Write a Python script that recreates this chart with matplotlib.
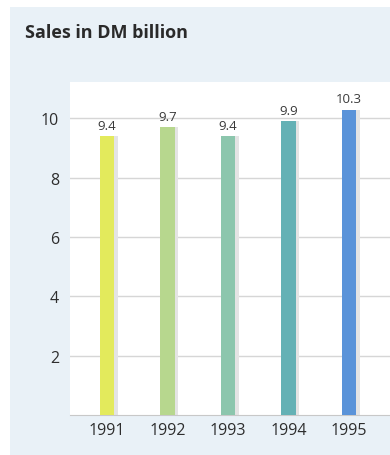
import matplotlib.pyplot as plt
from matplotlib.patches import Rectangle

## Données

annees = ['1991', '1992', '1993', '1994', '1995']
ventes = [9.4, 9.7, 9.4, 9.9, 10.3]  # chiffre d'affaires en milliards de DM
couleurs = ['#e3ea5c', '#b7d78e', '#8cc6ad', '#64b1b5', '#5a93d9']
graduations = [2, 4, 6, 8, 10]

## Figure

plt.rcParams['font.family'] = ['Open Sans', 'DejaVu Sans']
fig = plt.figure(figsize=(3.9, 4.56), dpi=100, facecolor='white')

# panneau bleu clair derrière le graphique
fond = Rectangle((10 / 390, 0), 1, 1 - 8 / 456, transform=fig.transFigure,
                 facecolor='#e9f1f7', edgecolor='none', zorder=-5)
fig.patches.append(fond)

ax = fig.add_axes([70 / 390, 40 / 456, 1 - 70 / 390, (416 - 83) / 456])
ax.set_zorder(2)
ax.set_facecolor('white')

x = list(range(len(annees)))
# ombre grise à droite de chaque barre
ax.bar([k + 0.06 for k in x], ventes, width=0.24, color='#e4e4e4', zorder=2)
ax.bar(x, ventes, width=0.24, color=couleurs, zorder=3)

for k, v in zip(x, ventes):
    ax.text(k, v + 0.15, str(v), ha='center', va='bottom', fontsize=9.5, color='#3a3a3a')

ax.set_xlim(-0.61, 4.68)
ax.set_ylim(0, 11.23)
ax.set_yticks(graduations)
ax.set_yticklabels([str(g) for g in graduations])
ax.set_xticks(x)
ax.set_xticklabels(annees)
ax.yaxis.grid(True, color='#d6d6d6', linewidth=1)
ax.set_axisbelow(True)
ax.tick_params(axis='both', length=0, labelsize=11.5, colors='#2e2e2e')
ax.tick_params(axis='y', pad=8)
ax.tick_params(axis='x', pad=5)
for s in ['top', 'right', 'left']:
    ax.spines[s].set_visible(False)
ax.spines['bottom'].set_color('#c8c8c8')

fig.text(25 / 390, 1 - 33 / 456, 'Sales in DM billion', fontsize=13, fontweight='bold',
         color='#2a2a2a', va='center', ha='left')

plt.savefig('out.png', dpi=100, facecolor=fig.get_facecolor())
